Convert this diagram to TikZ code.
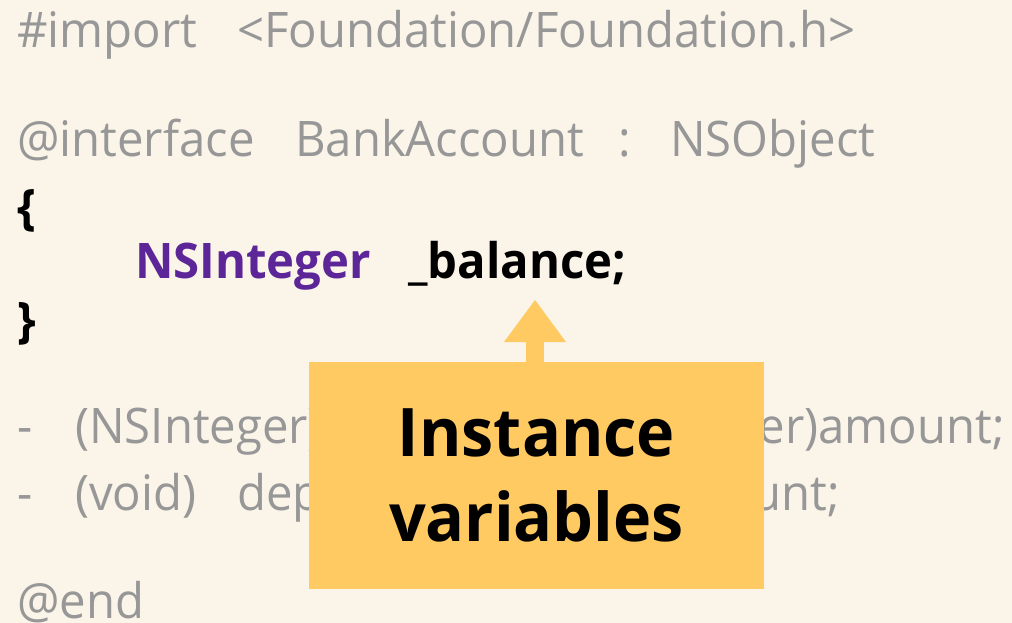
\documentclass[tikz,border=0pt]{standalone}
\usepackage{fontspec}
\setmainfont{Open Sans}[FakeStretch=0.965]
\usetikzlibrary{arrows.meta,positioning}
\definecolor{paper}{HTML}{FAF4E9}
\definecolor{codegray}{HTML}{979797}
\definecolor{typepurple}{HTML}{5C2699}
\definecolor{notefill}{HTML}{FFCA62}
\tikzset{
  code/.style={anchor=base west,inner sep=0pt,text=codegray,font=\fontsize{49}{55}\selectfont},
  codeend/.style={code,anchor=base east},
  strong/.style={code,text=black,font=\fontsize{49}{55}\selectfont\bfseries},
  notebox/.style={fill=notefill,inner sep=0pt,minimum width=455pt,minimum height=227pt,
    align=center,font=\fontsize{67}{85}\selectfont\bfseries},
  pointer/.style={draw=notefill,line width=18pt,-{Triangle[width=62pt,length=42pt,line width=0pt]}}
}
\begin{document}
\begin{tikzpicture}[x=1pt,y=-1pt]
% Background
\fill[paper] (0,0) rectangle (1012,623);
\useasboundingbox (0,0) rectangle (1012,623);

% Header
\node[code] (imp) at (17,48) {\#import};
\node[code] (hdr) at (237,48) {<Foundation/Foundation.h>};

% Interface line
\node[code] (intf) at (17,157) {@interface};
\node[code] (cls) at (295,157) {BankAccount};
\node[code] (colon) at (618,157) {:};
\node[code] (super) at (670,157) {NSObject};

% Instance variable block
\node[strong] (lbrace) at (17,224) {\{};
\node[strong,text=typepurple] (itype) at (135,278) {NSInteger};
\node[strong] (balance) at (408,278) {\_balance;};
\node[strong] (rbrace) at (17,337) {\}};

% Methods
\node[code] (dash1) at (17,443) {-};
\node[code] (ret1) at (75,443) {(NSInteger)};
\node[code] (sel1) at (400,443) {withdraw:};
\node[codeend] (arg1) at (1005,443) {(NSInteger)amount;};
\node[code] (dash2) at (17,510) {-};
\node[code] (ret2) at (75,510) {(void)};
\node[code] (sel2) at (237,510) {deposit:};
\node[codeend] (arg2) at (840,510) {(NSInteger)amount;};

\node[code] (end) at (17,618) {@end};

% Callout
\node[notebox] (note) at (536.5,475.5) {Instance\\variables};
\coordinate (ivartip) at (535,300);
\draw[pointer] (note.north -| ivartip) -- (ivartip);
\end{tikzpicture}
\end{document}
